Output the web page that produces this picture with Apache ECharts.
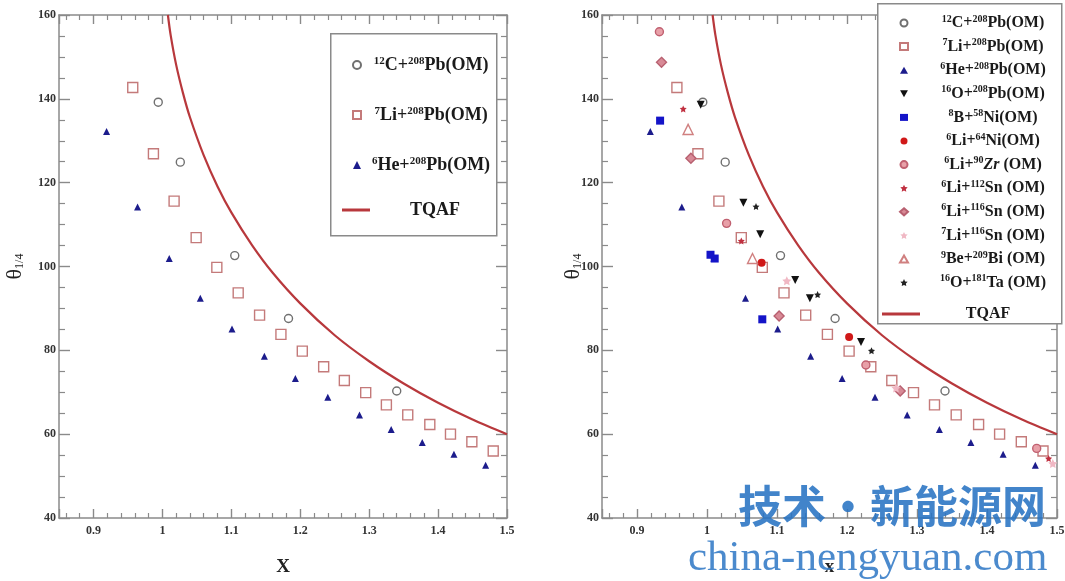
<!DOCTYPE html>
<html><head><meta charset="utf-8">
<script src="https://cdn.jsdelivr.net/npm/echarts@6/dist/echarts.min.js"></script>
<style>html,body{margin:0;padding:0;background:#fff}#c{width:1065px;height:581px}</style>
</head><body><div id="c"></div>
<script>
// ---- data ----
const xRange = [0.85, 1.5];
const yRange = [40, 160];
const c12Pb = [[0.994,139.2],[1.026,124.9],[1.105,102.6],[1.183,87.6],[1.340,70.3]];
const li7Pb = [[0.957,142.7],[0.987,126.9],[1.017,115.6],[1.049,106.9],[1.079,99.8],[1.110,93.7],[1.141,88.4],[1.172,83.8],[1.203,79.8],[1.234,76.1],[1.264,72.8],[1.295,69.9],[1.325,67.0],[1.356,64.6],[1.388,62.3],[1.418,60.0],[1.449,58.2],[1.480,56.0]];
const he6Pb = [[0.919,132.2],[0.964,114.2],[1.010,101.9],[1.055,92.4],[1.101,85.1],[1.148,78.6],[1.193,73.3],[1.240,68.8],[1.286,64.6],[1.332,61.1],[1.377,58.0],[1.423,55.2],[1.469,52.6]];
const o16Pb = [[0.991,138.6],[1.052,115.2],[1.076,107.7],[1.126,96.8],[1.147,92.4],[1.220,82.0]];
const b8Ni = [[0.933,134.8],[1.005,102.8],[1.011,101.9],[1.079,87.4]];
const li6Ni = [[1.078,100.9],[1.203,83.2]];
const li6Zr = [[0.932,156.0],[1.028,110.3],[1.227,76.5],[1.471,56.6]];
const li6Sn112 = [[0.966,137.6],[1.049,106.1],[1.488,54.2]];
const li6Sn116 = [[0.935,148.7],[0.977,125.8],[1.103,88.2],[1.276,70.3]];
const li7Sn116 = [[1.114,96.6],[1.270,71.0],[1.494,53.0]];
const be9Bi = [[0.973,132.7],[1.065,101.9]];
const o16Ta = [[1.070,114.3],[1.158,93.3],[1.235,79.9]];
const tqafX = [1.008,1.012,1.02,1.03,1.04,1.06,1.08,1.10,1.13,1.16,1.20,1.25,1.30,1.35,1.40,1.45,1.50];
const tqafY = [160,155.2,148.1,141.3,135.6,126.5,119.1,112.9,105.1,98.5,91.2,83.6,77.4,72.1,67.5,63.5,60.0];
const namesLeft = ['12C+208Pb(OM)','7Li+208Pb(OM)','6He+208Pb(OM)'];
const namesRight = ['12C+208Pb(OM)','7Li+208Pb(OM)','6He+208Pb(OM)','16O+208Pb(OM)','8B+58Ni(OM)','6Li+64Ni(OM)','6Li+90Zr (OM)','6Li+112Sn (OM)','6Li+116Sn (OM)','7Li+116Sn (OM)','9Be+209Bi (OM)','16O+181Ta (OM)'];
const lineName = 'TQAF';

// ---- styling ----
const SERIF = '"Liberation Serif","DejaVu Serif",serif';
const AX = '#8a8a8a';
const STAR = 'path://M0,-10L2.9,-4L9.5,-3.1L4.8,1.5L5.9,8.1L0,5L-5.9,8.1L-4.8,1.5L-9.5,-3.1L-2.9,-4Z';
const DOWN = 'path://M0,0L10,0L5,9Z';
const tqafPts = tqafX.map((x,i)=>[x,tqafY[i]]);

function mkX(gi, pos, lab, name){
  return {type:'value', gridIndex:gi, position:pos, min:xRange[0], max:xRange[1], splitNumber:6,
    axisLine:{show:true,onZero:false,lineStyle:{color:AX,width:1.5}},
    axisTick:{show:true,inside:true,length:9,lineStyle:{color:AX,width:1.4}},
    minorTick:{show:true,splitNumber:5,length:5,lineStyle:{color:AX,width:1.2}},
    splitLine:{show:false}, minorSplitLine:{show:false},
    axisLabel:{show:lab,showMinLabel:false,margin:7,color:'#333',fontFamily:SERIF,fontWeight:'bold',fontSize:12},
    name: lab?name:'', nameLocation:'middle', nameGap:40, nameMoveOverlap:false,
    nameTextStyle:{fontFamily:SERIF,fontWeight:'bold',fontSize:19,color:'#222'}};
}
function mkY(gi, pos, lab, gap){
  return {type:'value', gridIndex:gi, position:pos, min:yRange[0], max:yRange[1], interval:20,
    axisLine:{show:true,onZero:false,lineStyle:{color:AX,width:1.5}},
    axisTick:{show:true,inside:true,length:11,lineStyle:{color:AX,width:1.4}},
    minorTick:{show:true,splitNumber:4,length:6,lineStyle:{color:AX,width:1.2}},
    splitLine:{show:false}, minorSplitLine:{show:false},
    axisLabel:{show:lab,margin:3,color:'#333',fontFamily:SERIF,fontWeight:'bold',fontSize:12},
    name: lab?'{t|θ}{s|1/4}':'', nameLocation:'middle', nameGap:gap||40, nameMoveOverlap:false,
    nameTextStyle:{color:'#222',rich:{t:{fontFamily:SERIF,fontSize:22,color:'#222'},s:{fontFamily:SERIF,fontSize:12,color:'#222',verticalAlign:'bottom',padding:[8,0,0,0]}}}};
}
const styles = {
  '12C+208Pb(OM)': {symbol:'circle',size:8,color:'#fff',border:'#707070'},
  '7Li+208Pb(OM)': {symbol:'rect',size:10,color:'#fff',border:'#c47a7a'},
  '6He+208Pb(OM)': {symbol:'triangle',size:7,color:'#1c1c8c',border:null},
  '16O+208Pb(OM)': {symbol:DOWN,size:8,color:'#111',border:null},
  '8B+58Ni(OM)': {symbol:'rect',size:8,color:'#1414c8',border:null},
  '6Li+64Ni(OM)': {symbol:'circle',size:8,color:'#d01818',border:null},
  '6Li+90Zr (OM)': {symbol:'circle',size:8,color:'#e8a0a8',border:'#c06070'},
  '6Li+112Sn (OM)': {symbol:STAR,size:7,color:'#c03040',border:null},
  '6Li+116Sn (OM)': {symbol:'diamond',size:10,color:'#d88a96',border:'#b86070'},
  '7Li+116Sn (OM)': {symbol:STAR,size:9,color:'#f0b8c4',border:null},
  '9Be+209Bi (OM)': {symbol:'triangle',size:10,color:'#fff',border:'#d08080'},
  '16O+181Ta (OM)': {symbol:STAR,size:7,color:'#222',border:null}
};
function sc(name, data, gi){
  const s = styles[name];
  return {type:'scatter', name:name, xAxisIndex:gi*2, yAxisIndex:gi*2, data:data,
    symbol:s.symbol, symbolSize:s.size,
    itemStyle:{color:s.color, borderColor:s.border||s.color, borderWidth:s.border?1.4:0, opacity:1},
    z:3};
}
function line(gi){
  return {type:'line', name:lineName, xAxisIndex:gi*2, yAxisIndex:gi*2, data:tqafPts, smooth:0.3,
    symbol:'none', showSymbol:false, lineStyle:{color:'#b8383c',width:2.2}, itemStyle:{color:'#b8383c'}, z:2};
}
function fmt(name){
  const parts = name.split(/(\d+)/);
  let out = '';
  parts.forEach((p,i)=>{
    if(!p) return;
    if (i%2===1) { out += '{s|'+p+'}'; return; }
    if (p.indexOf('Zr') >= 0) { out += '{i|Zr}{n|' + p.replace('Zr','') + '}'; return; }
    out += '{n|'+p+'}';
  });
  return out;
}
function legendRich(fs, sfs){
  return {
    n:{fontFamily:SERIF,fontWeight:'bold',fontSize:fs,color:'#1a1a1a',align:'center',lineHeight:18},
    i:{fontFamily:SERIF,fontWeight:'bold',fontStyle:'italic',fontSize:fs,color:'#1a1a1a',align:'center',lineHeight:18},
    s:{fontFamily:SERIF,fontWeight:'bold',fontSize:sfs,color:'#1a1a1a',align:'center',verticalAlign:'top',lineHeight:18}
  };
}

const series = [
  sc('12C+208Pb(OM)', c12Pb, 0), sc('7Li+208Pb(OM)', li7Pb, 0), sc('6He+208Pb(OM)', he6Pb, 0), line(0),
  sc('12C+208Pb(OM)', c12Pb, 1), sc('7Li+208Pb(OM)', li7Pb, 1), sc('6He+208Pb(OM)', he6Pb, 1),
  sc('16O+208Pb(OM)', o16Pb, 1), sc('8B+58Ni(OM)', b8Ni, 1), sc('6Li+64Ni(OM)', li6Ni, 1),
  sc('6Li+90Zr (OM)', li6Zr, 1), sc('6Li+112Sn (OM)', li6Sn112, 1), sc('6Li+116Sn (OM)', li6Sn116, 1),
  sc('7Li+116Sn (OM)', li7Sn116, 1), sc('9Be+209Bi (OM)', be9Bi, 1), sc('16O+181Ta (OM)', o16Ta, 1),
  line(1)
];

const option = {
  animation:false,
  backgroundColor:'#fff',
  grid:[{left:59,top:15,width:448,height:503,outerBoundsMode:'none',containLabel:false},
        {left:602,top:15,width:455,height:503,outerBoundsMode:'none',containLabel:false}],
  xAxis:[mkX(0,'bottom',true,'X'), mkX(0,'top',false), mkX(1,'bottom',true,'x'), mkX(1,'top',false)],
  yAxis:[mkY(0,'left',true,33), mkY(0,'right',false), mkY(1,'left',true,18), mkY(1,'right',false)],
  legend:[
    {data:namesLeft, orient:'vertical', left:347, top:51, itemWidth:8, itemHeight:8, itemGap:32,
     formatter:fmt, textStyle:{width:130, rich:legendRich(18,11)}, selectedMode:false, z:10},
    {data:[lineName], orient:'vertical', left:337, top:196, itemWidth:28, itemHeight:3, icon:'rect',
     formatter:fmt, textStyle:{width:120, rich:legendRich(18,11)}, selectedMode:false, z:10},
    {data:namesRight, orient:'vertical', left:894, top:9, itemWidth:8, itemHeight:7, itemGap:6.6,
     formatter:fmt, textStyle:{width:160, rich:legendRich(16,10)}, selectedMode:false, z:10},
    {data:[lineName], orient:'vertical', left:877, top:301, itemWidth:38, itemHeight:3, icon:'rect',
     formatter:fmt, textStyle:{width:126, rich:legendRich(16,10)}, selectedMode:false, z:10}
  ],
  graphic:[
    {type:'rect', left:330, top:33, z:5, shape:{width:166,height:202}, style:{fill:'#fff',stroke:'#8a8a8a',lineWidth:1.5}},
    {type:'rect', left:877, top:3, z:5, shape:{width:184,height:320}, style:{fill:'#fff',stroke:'#8a8a8a',lineWidth:1.5}},
    {type:'text', left:738, top:484, z:50, style:{text:'技术·新能源网', font:'bold 44px "Noto Sans CJK SC"', fill:'rgba(40,115,195,0.88)'}},
    {type:'text', left:688, top:537, z:50, style:{text:'china-nengyuan.com', font:'43px "Liberation Serif"', fill:'rgba(55,125,200,0.9)'}}
  ],
  series:series
};
const chart = echarts.init(document.getElementById('c'), null, {renderer:'canvas'});
chart.setOption(option);
</script></body></html>
